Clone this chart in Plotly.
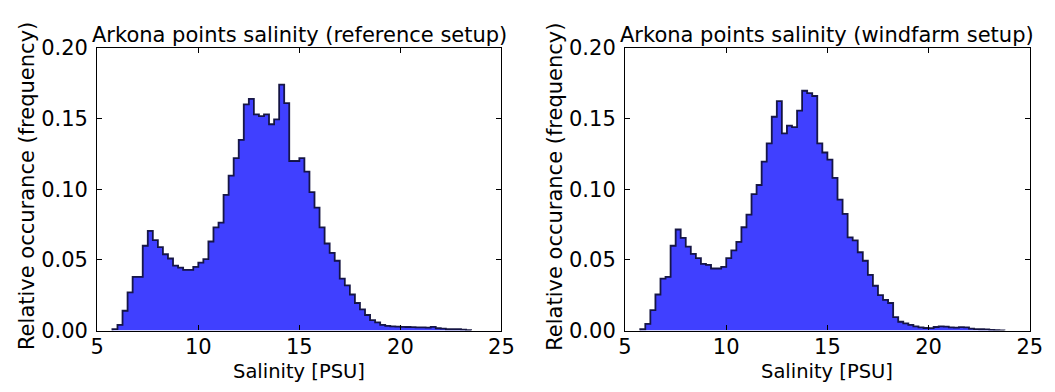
import plotly.graph_objects as go

# ---- data ----
bin_start = 5.75          # left edge of first bin [PSU]
bin_width = 0.25          # bin width [PSU]

ref_freq = [0.001, 0.004, 0.014, 0.027, 0.038, 0.038, 0.060, 0.0705, 0.064, 0.059,
            0.054, 0.051, 0.046, 0.0445, 0.043, 0.043, 0.045, 0.048, 0.0505, 0.063,
            0.073, 0.0764, 0.096, 0.1096, 0.122, 0.135, 0.160, 0.164, 0.153, 0.1517,
            0.153, 0.146, 0.1495, 0.174, 0.161, 0.120, 0.120, 0.122, 0.1125, 0.098,
            0.087, 0.073, 0.0616, 0.055, 0.0494, 0.0368, 0.032, 0.0255, 0.0195, 0.015,
            0.011, 0.0073, 0.0058, 0.004, 0.0033, 0.0029, 0.0027, 0.0026, 0.0025, 0.0024,
            0.0022, 0.0022, 0.0021, 0.0026, 0.0016, 0.0014, 0.0009, 0.0009, 0.0009, 0.0006,
            0.0002]

wind_freq = [0.0009, 0.0047, 0.0144, 0.0255, 0.0368, 0.038, 0.060, 0.0715, 0.0656, 0.0594,
             0.0543, 0.0512, 0.0472, 0.0465, 0.0439, 0.0439, 0.045, 0.0512, 0.0567, 0.0627,
             0.0731, 0.082, 0.0966, 0.103, 0.1196, 0.1324, 0.1513, 0.1623, 0.1395, 0.145,
             0.144, 0.1557, 0.1697, 0.168, 0.166, 0.1324, 0.126, 0.121, 0.108, 0.0926,
             0.0826, 0.066, 0.0638, 0.0554, 0.0494, 0.0394, 0.0317, 0.025, 0.0217, 0.0195,
             0.0095, 0.0062, 0.0051, 0.004, 0.0029, 0.0022, 0.0018, 0.0017, 0.0025, 0.0030,
             0.0028, 0.0022, 0.0021, 0.0024, 0.0023, 0.0013, 0.0010, 0.0009, 0.0008, 0.0004,
             0.0002, 0.0001]

titles = ["Arkona points salinity (reference setup)",
          "Arkona points salinity (windfarm setup)"]
x_label = "Salinity [PSU]"
y_label = "Relative occurance (frequency)"
x_ticks = [5, 10, 15, 20, 25]
y_ticks = [0.00, 0.05, 0.10, 0.15, 0.20]

# ---- figure ----
W, H = 1055, 392
FONT = "DejaVu Sans"
FILL = "rgba(0,0,255,0.75)"
EDGE = "rgba(15,15,60,0.95)"

def step_xy(freq):
    edges = [bin_start + i * bin_width for i in range(len(freq) + 1)]
    xs = [edges[0]] + edges[:-1] + [edges[-1]]
    ys = [0] + list(freq) + [0]
    return xs, ys

fig = go.Figure()
for i, freq in enumerate([ref_freq, wind_freq]):
    xs, ys = step_xy(freq)
    fig.add_trace(go.Scatter(
        x=xs, y=ys, mode="lines", line=dict(shape="hv", color=EDGE, width=1.8),
        fill="tozeroy", fillcolor=FILL, showlegend=False, hoverinfo="skip",
        xaxis="x" if i == 0 else "x2", yaxis="y" if i == 0 else "y2"))

# axes placement in pixels
ax_left = [(92, 504), (630, 1042.5)]
ax_top, ax_bot = 38.3, 339.3
ydom = [1 - ax_bot / H, 1 - ax_top / H]

common_x = dict(range=[5, 25], tickvals=x_ticks, ticks="inside", ticklen=5,
                tickwidth=1, tickcolor="black", showline=True, linecolor="black",
                linewidth=1.2, mirror="allticks", showgrid=False, zeroline=False,
                ticklabelstandoff=-3,
                tickfont=dict(family=FONT, size=21, color="black"))
common_y = dict(range=[0, 0.2], tickvals=y_ticks, tickformat=".2f", ticks="inside",
                ticklen=5, tickwidth=1, tickcolor="black", showline=True,
                linecolor="black", linewidth=1.2, mirror="allticks", showgrid=False,
                zeroline=False, ticklabelstandoff=4,
                tickfont=dict(family=FONT, size=21, color="black"))

fig.update_layout(
    width=W, height=H, margin=dict(l=0, r=0, t=0, b=0),
    paper_bgcolor="white", plot_bgcolor="white",
    xaxis=dict(domain=[ax_left[0][0] / W, ax_left[0][1] / W], anchor="y", **common_x),
    yaxis=dict(domain=ydom, anchor="x", **common_y),
    xaxis2=dict(domain=[ax_left[1][0] / W, ax_left[1][1] / W], anchor="y2", **common_x),
    yaxis2=dict(domain=ydom, anchor="x2", **common_y),
)

annotations = []
for i, (l, r) in enumerate(ax_left):
    cx = (l + r) / 2 / W
    annotations.append(dict(text=titles[i], x=cx, y=1 - 24 / H, xref="paper",
                            yref="paper", xanchor="center", yanchor="middle",
                            showarrow=False, font=dict(family=FONT, size=21, color="black")))
    annotations.append(dict(text=x_label, x=cx, y=1 - 382.5 / H, xref="paper", yref="paper",
                            xanchor="center", yanchor="middle", showarrow=False,
                            font=dict(family=FONT, size=19.5, color="black")))
    annotations.append(dict(text=y_label, x=(l - 71) / W, y=1 - ((ax_top + ax_bot) / 2 - 3) / H,
                            xref="paper", yref="paper", xanchor="center", yanchor="middle",
                            textangle=-90, showarrow=False,
                            font=dict(family=FONT, size=21, color="black")))
fig.update_layout(annotations=annotations)

fig.write_html("out.html")
